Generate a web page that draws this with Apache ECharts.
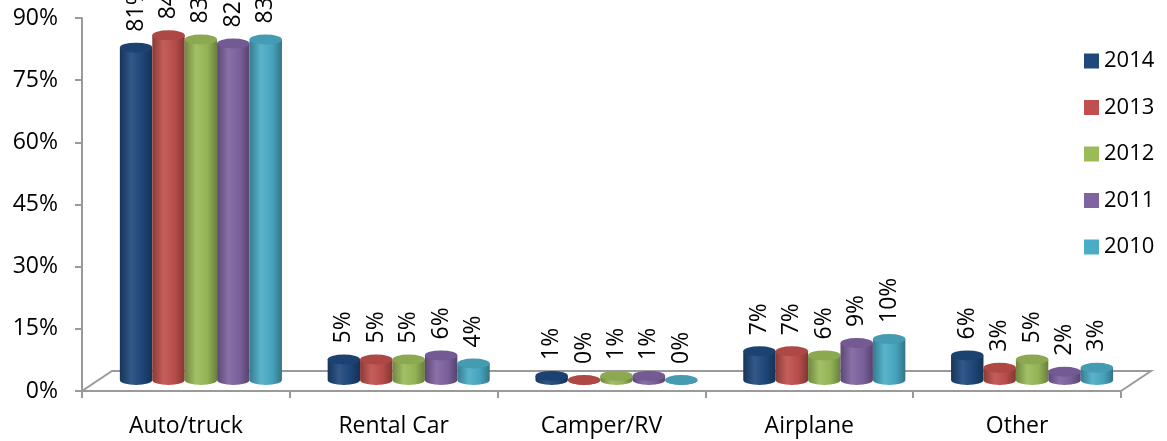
<!DOCTYPE html>
<html>
<head>
<meta charset="utf-8">
<script src="https://cdn.jsdelivr.net/npm/echarts@6/dist/echarts.min.js"></script>
<style>
  html, body { margin: 0; padding: 0; background: #fff; }
  #chart { width: 1167px; height: 441px; }
</style>
</head>
<body>
<div id="chart"></div>
<script>
  const categories = ['Auto/truck', 'Rental Car', 'Camper/RV', 'Airplane', 'Other'];
  const years = ['2014', '2013', '2012', '2011', '2010'];
  const v2014 = [81, 5, 1, 7, 6];
  const v2013 = [84, 5, 0, 7, 3];
  const v2012 = [83, 5, 1, 6, 5];
  const v2011 = [82, 6, 1, 9, 2];
  const v2010 = [83, 4, 0, 10, 3];
  const values = [v2014, v2013, v2012, v2011, v2010];
  const colors = ['#1F497D', '#C0504D', '#9BBB59', '#8064A2', '#4BACC6'];

  const FONT = '"Open Sans", "Noto Sans", sans-serif';
  const AXIS = '#9a9a9a';
  // fake 3d floor depth (px)
  const DEPTH_X = 30, DEPTH_Y = 20;

  function shade(hex, f) {
    let r = parseInt(hex.slice(1, 3), 16), g = parseInt(hex.slice(3, 5), 16), b = parseInt(hex.slice(5, 7), 16);
    const m = (c) => f < 1 ? Math.round(c * f) : Math.round(c + (255 - c) * (f - 1));
    return 'rgb(' + m(r) + ',' + m(g) + ',' + m(b) + ')';
  }

  function cylinder(idx) {
    const color = colors[idx];
    return function (params, api) {
      const cat = api.value(0), v = api.value(1);
      const base = api.coord([cat, 0]);
      const top = api.coord([cat, v]);
      const band = api.size([1, 0])[0];
      const bw = band * 0.156;
      const rx = bw / 2, ry = 5;
      const cx = base[0] + 15 + (idx - 2) * bw;
      const by = base[1] - 11;
      // bars stand a bit behind the front plane, so slightly shorter
      const ty = by - (base[1] - top[1]) * 0.99;
      const body = 'M' + (cx - rx) + ',' + ty + 'L' + (cx - rx) + ',' + by +
        'A' + rx + ',' + ry + ',0,0,0,' + (cx + rx) + ',' + by +
        'L' + (cx + rx) + ',' + ty + 'Z';
      const cap = 'M' + (cx - rx) + ',' + ty +
        'A' + rx + ',' + ry + ',0,1,0,' + (cx + rx) + ',' + ty +
        'A' + rx + ',' + ry + ',0,1,0,' + (cx - rx) + ',' + ty + 'Z';
      return {
        type: 'group',
        children: [
          {
            type: 'path',
            shape: { pathData: body },
            style: {
              fill: new echarts.graphic.LinearGradient(0, 0, 1, 0, [
                { offset: 0, color: shade(color, 0.72) },
                { offset: 0.35, color: shade(color, 1.08) },
                { offset: 0.7, color: shade(color, 0.95) },
                { offset: 1, color: shade(color, 0.68) }
              ])
            }
          },
          {
            type: 'path',
            shape: { pathData: cap },
            style: { fill: shade(color, 0.9) }
          },
          {
            type: 'text',
            x: cx,
            y: ty - 16,
            rotation: Math.PI / 2,
            style: {
              text: v + '%',
              fill: '#000',
              font: '23px ' + FONT,
              align: 'left',
              verticalAlign: 'middle'
            }
          }
        ]
      };
    };
  }

  const chart = echarts.init(document.getElementById('chart'));

  const series = years.map(function (y, i) {
    return {
      name: y,
      type: 'custom',
      renderItem: cylinder(i),
      itemStyle: { color: colors[i] },
      data: values[i].map(function (v, c) { return [c, v]; }),
      z: 3
    };
  });

  // floor outline behind the bars
  series.push({
    type: 'custom',
    silent: true,
    z: 1,
    data: [[0, 0]],
    renderItem: function (params, api) {
      const g = params.coordSys;
      const y0 = g.y + g.height;
      return {
        type: 'polyline',
        shape: {
          points: [
            [g.x, y0],
            [g.x + DEPTH_X, y0 - DEPTH_Y],
            [g.x + g.width + DEPTH_X, y0 - DEPTH_Y],
            [g.x + g.width, y0]
          ]
        },
        style: { stroke: AXIS, lineWidth: 2, fill: null }
      };
    }
  });

  chart.setOption({
    animation: false,
    grid: { left: 82, right: 46, top: 18, bottom: 50 },
    legend: {
      data: years,
      orient: 'vertical',
      left: 1084,
      top: 50,
      padding: 0,
      icon: 'rect',
      itemWidth: 15,
      itemHeight: 15,
      itemGap: 24.5,
      textStyle: { fontSize: 22, fontFamily: FONT, color: '#000', lineHeight: 22 }
    },
    xAxis: {
      type: 'category',
      data: categories,
      axisLine: { lineStyle: { color: AXIS, width: 2 } },
      axisTick: { show: true, length: 7, lineStyle: { color: AXIS, width: 2 } },
      axisLabel: { margin: 24, fontSize: 23, fontFamily: FONT, color: '#000' }
    },
    yAxis: {
      type: 'value',
      min: 0,
      max: 90,
      interval: 15,
      axisLine: { show: true, lineStyle: { color: AXIS, width: 2 } },
      axisTick: { show: true, length: 7, lineStyle: { color: AXIS, width: 2 } },
      splitLine: { show: false },
      axisLabel: { margin: 24, fontSize: 23, fontFamily: FONT, color: '#000', formatter: '{value}%' }
    },
    series: series
  });
</script>
</body>
</html>
